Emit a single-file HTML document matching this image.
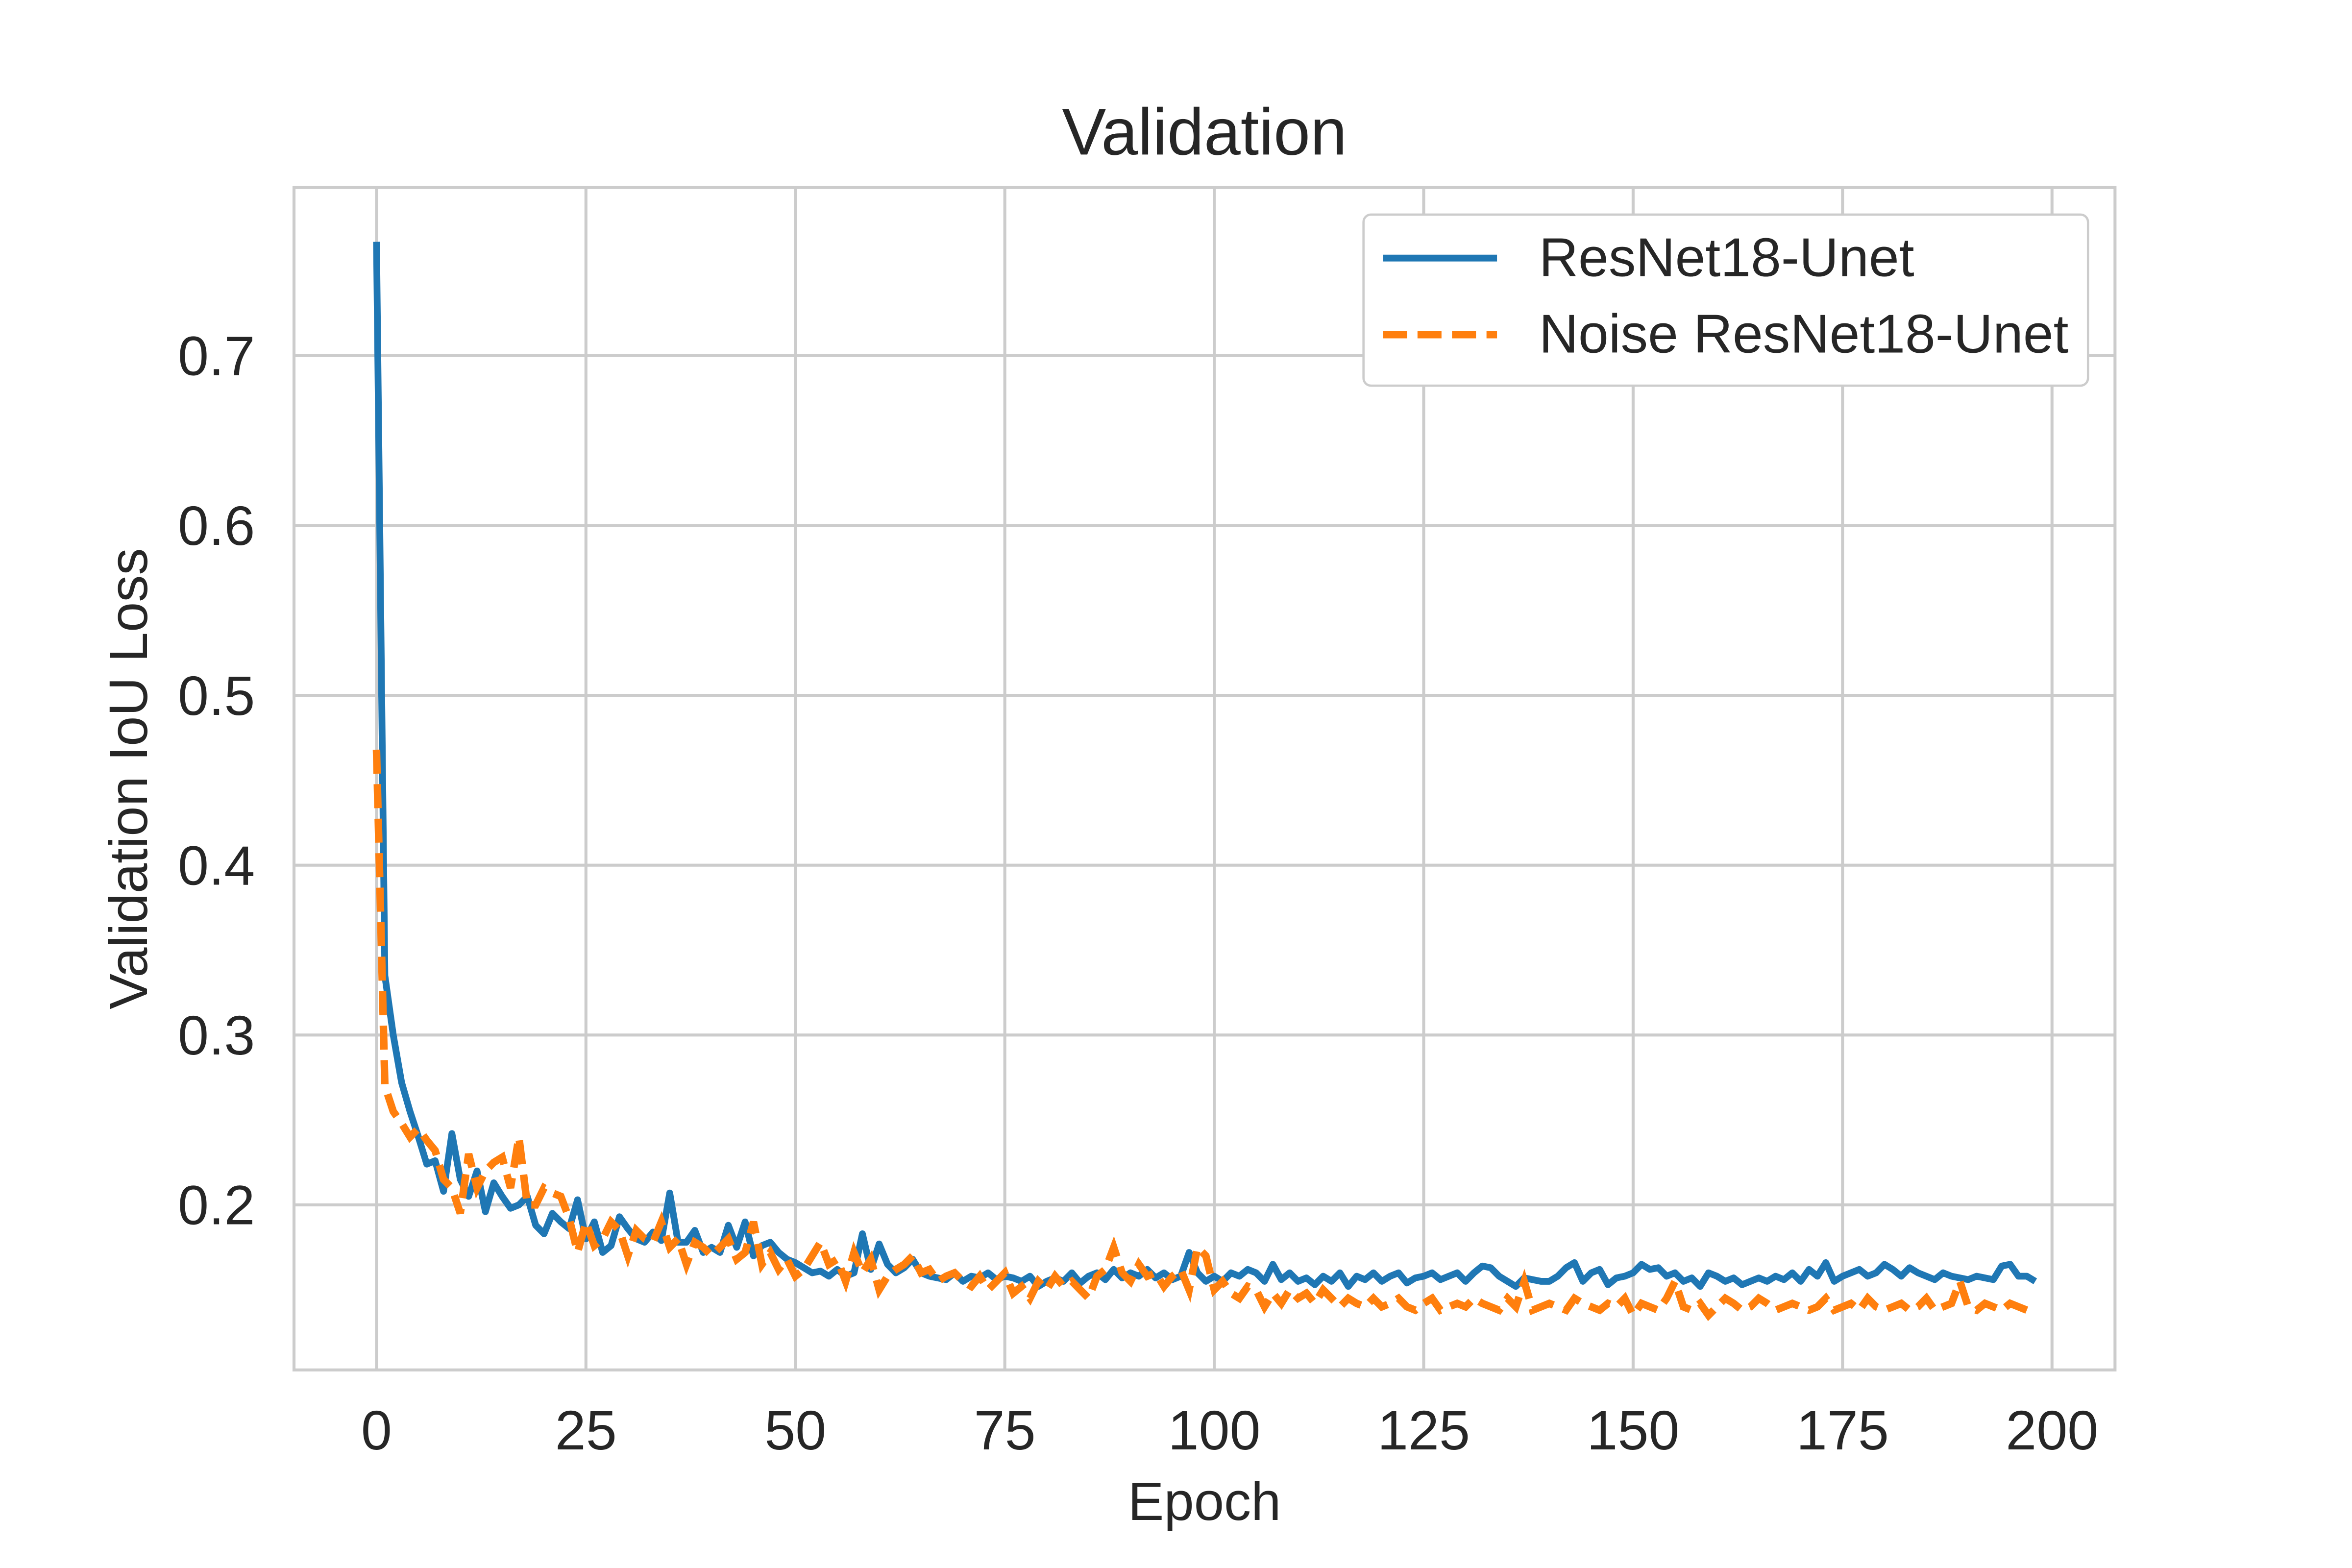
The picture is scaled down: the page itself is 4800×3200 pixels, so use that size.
<!DOCTYPE html>
<html><head><meta charset="utf-8"><style>
html,body{margin:0;padding:0;background:#fff}
svg{display:block}
text{font-family:"Liberation Sans",Arial,sans-serif;fill:#262626}
</style></head><body>
<svg id="chart" width="4800" height="3200" viewBox="0 0 1568 1045" preserveAspectRatio="none" xmlns="http://www.w3.org/2000/svg">
<rect width="1568" height="1045" fill="#fff"/>
<g id="grid"></g>
<g id="lines"></g>
<g id="ticks"></g>
<text x="803" y="103" font-size="44" text-anchor="middle">Validation</text>
<text x="803" y="1013" font-size="36" text-anchor="middle">Epoch</text>
<text transform="translate(98,519) rotate(-90)" font-size="36" text-anchor="middle">Validation IoU Loss</text>
<g>
<rect x="909" y="143" width="483" height="114" rx="5" fill="#fff" stroke="#ccc" stroke-width="1.5"/>
<line x1="922" y1="172" x2="998" y2="172" stroke="#1f77b4" stroke-width="4.5"/>
<text x="1026" y="184" font-size="36.3">ResNet18-Unet</text>
<line x1="922" y1="223" x2="998" y2="223" stroke="#ff7f0e" stroke-width="5" stroke-dasharray="16,7"/>
<text x="1026" y="235" font-size="36.3">Noise ResNet18-Unet</text>
</g>
</svg>
<script>
const xTicks=[0,25,50,75,100,125,150,175,200];
const yTicks=[0.2,0.3,0.4,0.5,0.6,0.7];
const yTickLabels=["0.2","0.3","0.4","0.5","0.6","0.7"];
const blueSeries=[.767,.335,.300,.272,.255,.240,.224,.226,.208,.242,
.215,.205,.220,.196,.213,.205,.198,.200,.205,.188,
.183,.195,.190,.186,.203,.180,.190,.172,.176,.193,
.186,.180,.178,.184,.179,.207,.178,.178,.185,.172,
.175,.172,.188,.175,.190,.170,.176,.178,.172,.168,
.166,.163,.160,.161,.158,.162,.158,.160,.183,.162,
.177,.165,.160,.163,.168,.160,.158,.157,.156,.160,
.155,.158,.157,.160,.156,.158,.157,.155,.158,.152,
.155,.157,.155,.160,.154,.158,.160,.156,.162,.157,
.160,.158,.162,.157,.160,.156,.158,.172,.160,.155,
.158,.155,.160,.158,.162,.160,.155,.165,.156,.160,
.155,.157,.153,.158,.155,.160,.152,.158,.156,.160,
.155,.158,.160,.154,.157,.158,.160,.156,.158,.160,
.155,.160,.164,.163,.158,.155,.152,.157,.156,.155,
.155,.158,.163,.166,.155,.160,.162,.153,.157,.158,
.160,.165,.162,.163,.158,.160,.155,.157,.152,.160,
.158,.155,.157,.153,.155,.157,.155,.158,.156,.160,
.155,.162,.158,.166,.155,.158,.160,.162,.158,.160,
.165,.162,.158,.163,.160,.158,.156,.160,.158,.157,
.156,.158,.157,.156,.164,.165,.158,.158,.155];
const orangeSeries=[.468,.270,.255,.248,.240,.245,.238,.232,.215,.210,
.195,.230,.210,.220,.225,.228,.210,.240,.200,.200,
.210,.207,.205,.192,.172,.190,.176,.180,.190,.185,
.170,.185,.180,.178,.190,.175,.180,.165,.178,.175,
.170,.175,.180,.168,.172,.190,.165,.172,.162,.168,
.158,.162,.170,.178,.165,.168,.155,.172,.160,.168,
.150,.158,.162,.165,.170,.160,.162,.155,.158,.160,
.155,.152,.158,.150,.155,.160,.148,.152,.145,.155,
.150,.158,.152,.155,.150,.145,.158,.162,.175,.160,
.155,.165,.158,.160,.152,.158,.162,.150,.175,.170,
.150,.155,.148,.145,.152,.150,.140,.148,.142,.150,
.145,.148,.142,.150,.145,.140,.145,.142,.140,.145,
.140,.142,.145,.140,.138,.142,.145,.138,.140,.142,
.140,.145,.142,.140,.138,.145,.140,.155,.138,.140,
.142,.140,.138,.145,.142,.140,.138,.142,.140,.145,
.135,.142,.140,.138,.145,.155,.140,.138,.142,.135,
.140,.145,.142,.138,.140,.145,.142,.138,.140,.142,
.140,.138,.140,.145,.138,.140,.142,.138,.145,.140,
.138,.140,.142,.138,.140,.145,.138,.140,.142,.155,
.140,.138,.142,.140,.138,.142,.140,.138,.135];
const NS="http://www.w3.org/2000/svg";
const L=196,R=1410,T=125,B=913;
function xs(v){return 251+(v-0)*(1368-251)/200;}
function ys(v){return 803-(v-0.2)*(803-237)/0.5;}
function mk(tag,attrs,parent){const e=document.createElementNS(NS,tag);for(const k in attrs)e.setAttribute(k,attrs[k]);parent.appendChild(e);return e;}
const grid=document.getElementById('grid'),ticks=document.getElementById('ticks'),lines=document.getElementById('lines');
xTicks.forEach(t=>{
 const g=mk('line',{x1:xs(t),x2:xs(t),y1:T,y2:B,stroke:'#cccccc','stroke-width':2},grid);
 
 
 const tx=mk('text',{x:xs(t),y:966,'font-size':37,'text-anchor':'middle'},ticks);
 tx.textContent=String(t);
 
 
});
yTicks.forEach((t,i)=>{
 const g=mk('line',{x1:L,x2:R,y1:ys(t),y2:ys(t),stroke:'#cccccc','stroke-width':2},grid);
 
 
 const tx=mk('text',{x:170,y:ys(t)+13,'font-size':37,'text-anchor':'end'},ticks);
 tx.textContent=yTickLabels[i];
 
 
});
const frame=mk('rect',{x:L,y:T,width:R-L,height:B-T,fill:'none',stroke:'#cccccc','stroke-width':2},grid);


function pts(arr){return arr.map((v,i)=>xs(i).toFixed(2)+','+ys(v).toFixed(2)).join(' ');}
const bl=mk('polyline',{points:pts(blueSeries),fill:'none',stroke:'#1f77b4','stroke-width':4.5,'stroke-linejoin':'round'},lines);


const ol=mk('polyline',{points:pts(orangeSeries),fill:'none',stroke:'#ff7f0e','stroke-width':5,'stroke-dasharray':'16,7'},lines);


</script>
</body></html>
